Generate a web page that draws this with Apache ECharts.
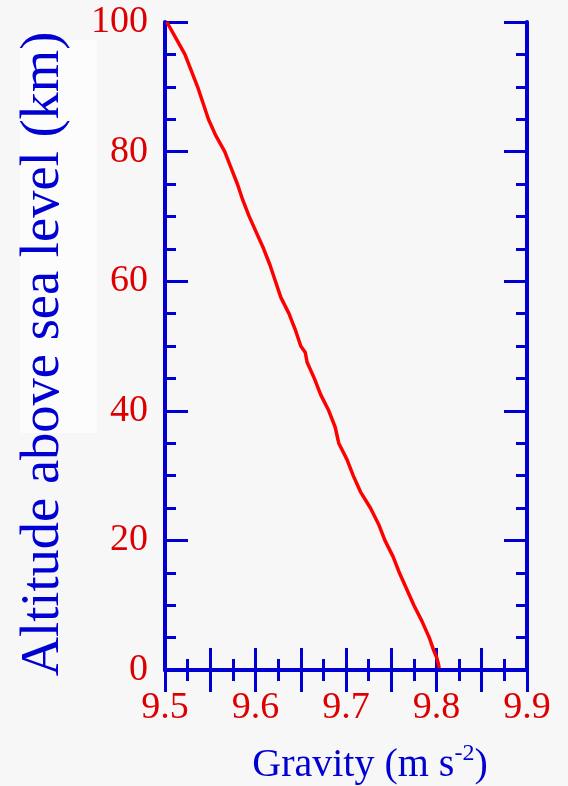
<!DOCTYPE html>
<html>
<head>
<meta charset="utf-8">
<script src="https://cdn.jsdelivr.net/npm/echarts@6/dist/echarts.min.js"></script>
<style>
  html, body { margin: 0; padding: 0; background: #f7f7f7; }
  #chart { width: 568px; height: 786px; }
</style>
</head>
<body>
<div id="chart"></div>
<script>
// Altitude above sea level (km) and the gravitational acceleration there (m s^-2)
const altitudeKm = [
  100, 97.5, 95, 92.5, 90, 87.5, 85, 82.5, 80, 77.5, 75, 72.5, 70, 67.5, 65,
  62.5, 60, 57.5, 55, 52.5, 50, 49, 47.5, 45, 42.5, 40, 37.5, 35, 32.5, 30,
  27.5, 25, 22.5, 20, 17.5, 15, 12.5, 10, 7.5, 5, 3, 2, 1, 0.3
];
const gravity = [
  9.502, 9.512, 9.522, 9.529, 9.536, 9.542, 9.548, 9.556, 9.566, 9.573, 9.580, 9.586, 9.593, 9.601, 9.609,
  9.616, 9.622, 9.628, 9.637, 9.644, 9.650, 9.655, 9.657, 9.665, 9.672, 9.681, 9.688, 9.692, 9.701, 9.708,
  9.716, 9.727, 9.736, 9.743, 9.752, 9.759, 9.767, 9.775, 9.784, 9.792, 9.797, 9.800, 9.802, 9.803
];

// Axis ranges and labelled ticks
const xMin = 9.5, xMax = 9.9, xStep = 0.05;
const xTickLabels = ['9.5', '9.6', '9.7', '9.8', '9.9'];
const yMin = 0, yMax = 100, yStep = 20;

const BLUE = '#0000d2';
const RED = '#dd0000';
const SERIF = '"Liberation Serif", "DejaVu Serif", serif';

const chart = echarts.init(document.getElementById('chart'), null, { renderer: 'canvas' });

const frameLine = { show: true, lineStyle: { color: BLUE, width: 4 } };
const xMajorTick = { show: true, inside: true, length: 22, lineStyle: { color: BLUE, width: 3 } };
const xMinorTick = { show: true, splitNumber: 2, length: 11, lineStyle: { color: BLUE, width: 3 } };
const yMajorTick = { show: true, inside: true, length: 23, lineStyle: { color: BLUE, width: 3 } };
const yMinorTick = { show: true, splitNumber: 4, length: 11, lineStyle: { color: BLUE, width: 3 } };

const points = gravity.map((g, i) => [g, altitudeKm[i]]);

chart.setOption({
  backgroundColor: '#f7f7f7',
  animation: false,
  graphic: [{
    type: 'rect',
    shape: { x: 20, y: 40, width: 77, height: 393 },
    style: { fill: '#fcfcfc' },
    z: -1
  }],
  grid: {
    left: 165, right: 41, top: 22, bottom: 116,
    containLabel: false,
    outerBoundsMode: 'none'
  },
  xAxis: [{
    type: 'value',
    position: 'bottom',
    min: xMin, max: xMax, interval: xStep,
    axisLine: frameLine,
    axisTick: xMajorTick,
    minorTick: xMinorTick,
    splitLine: { show: false },
    axisLabel: {
      color: RED, fontFamily: SERIF, fontSize: 38, margin: 19,
      formatter: function (v) {
        const s = v.toFixed(1);
        return Math.abs(v * 10 - Math.round(v * 10)) < 1e-6 && xTickLabels.indexOf(s) >= 0 ? s : '';
      }
    },
    name: '{t|Gravity (m s}{s|-2}{t|)}',
    nameLocation: 'middle',
    nameGap: 72,
    nameTextStyle: {
      padding: [0, 0, 0, 48],
      rich: {
        t: { color: BLUE, fontFamily: SERIF, fontSize: 40, lineHeight: 46 },
        s: { color: BLUE, fontFamily: SERIF, fontSize: 24, lineHeight: 46, padding: [0, 0, 22, 0] }
      }
    }
  }, {
    type: 'value',
    position: 'top',
    min: xMin, max: xMax, interval: xStep,
    axisLine: frameLine,
    axisTick: xMajorTick,
    minorTick: xMinorTick,
    splitLine: { show: false },
    axisLabel: { show: false }
  }],
  yAxis: [{
    type: 'value',
    position: 'left',
    min: yMin, max: yMax, interval: yStep,
    axisLine: frameLine,
    axisTick: yMajorTick,
    minorTick: yMinorTick,
    splitLine: { show: false },
    axisLabel: { color: RED, fontFamily: SERIF, fontSize: 38, margin: 17 },
    name: 'Altitude above sea level (km)',
    nameLocation: 'middle',
    nameGap: 94,
    nameTextStyle: { color: BLUE, fontFamily: SERIF, fontSize: 54.5, padding: [0, 16, 0, 0] }
  }, {
    type: 'value',
    position: 'right',
    min: yMin, max: yMax, interval: yStep,
    axisLine: frameLine,
    axisTick: yMajorTick,
    minorTick: yMinorTick,
    splitLine: { show: false },
    axisLabel: { show: false }
  }],
  series: [{
    type: 'line',
    xAxisIndex: 0,
    yAxisIndex: 0,
    data: points,
    showSymbol: false,
    symbol: 'none',
    smooth: false,
    lineStyle: { color: '#ff0000', width: 3.5 },
    z: 1
  }]
});
</script>
</body>
</html>
